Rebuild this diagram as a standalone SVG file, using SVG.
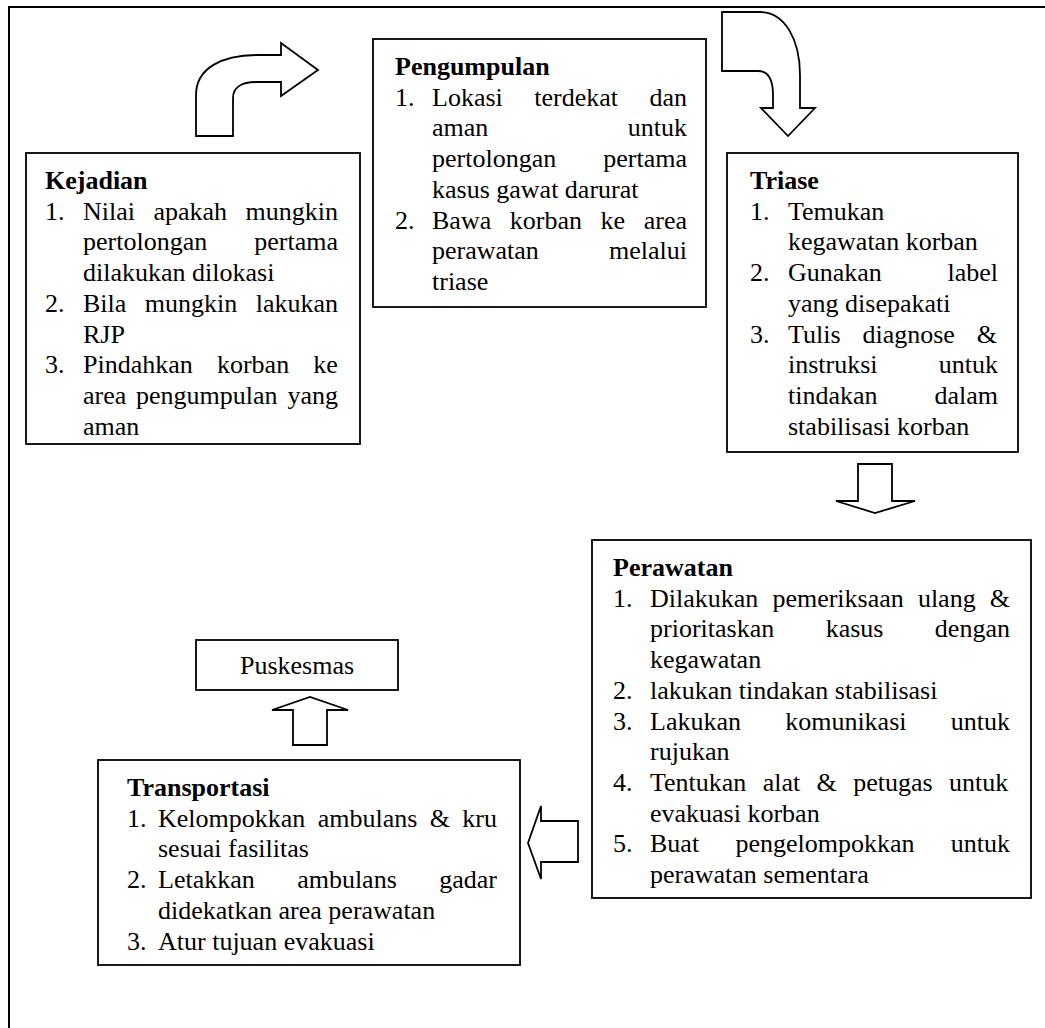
<svg xmlns="http://www.w3.org/2000/svg" width="1045" height="1028" viewBox="0 0 1045 1028">
<style>
.t{font-family:"Liberation Serif","Times New Roman",serif;font-size:26px;fill:#000}
.b{font-weight:bold}
.box{fill:#fff;stroke:#000;stroke-width:1.8}
.arr{fill:#fff;stroke:#000;stroke-width:1.8;stroke-linejoin:miter}
.frame{fill:none;stroke:#000;stroke-width:2}
</style>
<rect width="1045" height="1028" fill="#fff"/>
<path class="frame" d="M9,1028 L9,7 L1045,7"/>

<g id="connectors">
<path class="arr" d="M196,136 L196,95 C196,68 222,55 258,55 L281,55 L281,43 L318,70 L281,96 L281,82 L256,82 C241,82 233,88 233,98 L233,136 Z"/>
<path class="arr" d="M722,12 L760,12 C785,12 800,40 800,75 L800,108 L815,108 L788,136 L761,108 L773,108 L773,95 C773,80 768,71 758,71 L722,71 Z"/>
<path class="arr" d="M858,464 L892,464 L892,501 L915,501 L875,513 L836,501 L858,501 Z"/>
<path class="arr" d="M293,745 L293,710 L272,710 L310,697 L348,710 L327,710 L327,745 Z"/>
<path class="arr" d="M578,821 L541,821 L541,806 L528,843 L541,879 L541,862 L578,862 Z"/>
</g>

<g id="kejadian">
<rect class="box" x="26" y="153" width="334" height="291"/>
<text class="t b" x="45" y="189">Kejadian</text>
<text class="t" x="45" y="219.7">1.</text>
<text class="t" x="83" y="219.7" style="word-spacing:11.95px">Nilai apakah mungkin</text>
<text class="t" y="250.4"><tspan x="83">pertolongan</tspan><tspan x="338" text-anchor="end">pertama</tspan></text>
<text class="t" x="83" y="281.1">dilakukan dilokasi</text>
<text class="t" x="45" y="311.8">2.</text>
<text class="t" x="83" y="311.8" style="word-spacing:11.95px">Bila mungkin lakukan</text>
<text class="t" x="83" y="342.5">RJP</text>
<text class="t" x="45" y="373.2">3.</text>
<text class="t" x="83" y="373.2" style="word-spacing:17.7px">Pindahkan korban ke</text>
<text class="t" x="83" y="403.9" style="word-spacing:3.3px">area pengumpulan yang</text>
<text class="t" x="83" y="434.6">aman</text>
</g>

<g id="pengumpulan">
<rect class="box" x="373" y="39" width="333" height="268"/>
<text class="t b" x="395" y="75">Pengumpulan</text>
<text class="t" x="395" y="105.7">1.</text>
<text class="t" x="432" y="105.7" style="word-spacing:24.95px">Lokasi terdekat dan</text>
<text class="t" y="136.4"><tspan x="432">aman</tspan><tspan x="687" text-anchor="end">untuk</tspan></text>
<text class="t" y="167.1"><tspan x="432">pertolongan</tspan><tspan x="687" text-anchor="end">pertama</tspan></text>
<text class="t" x="432" y="197.8">kasus gawat darurat</text>
<text class="t" x="395" y="228.5">2.</text>
<text class="t" x="432" y="228.5" style="word-spacing:12.1px">Bawa korban ke area</text>
<text class="t" y="259.2"><tspan x="432">perawatan</tspan><tspan x="687" text-anchor="end">melalui</tspan></text>
<text class="t" x="432" y="289.9">triase</text>
</g>

<g id="triase">
<rect class="box" x="727" y="153" width="291" height="299"/>
<text class="t b" x="750" y="189">Triase</text>
<text class="t" x="750" y="219.7">1.</text>
<text class="t" x="788" y="219.7">Temukan</text>
<text class="t" x="788" y="250.4">kegawatan korban</text>
<text class="t" x="750" y="281.1">2.</text>
<text class="t" y="281.1"><tspan x="788">Gunakan</tspan><tspan x="998" text-anchor="end">label</tspan></text>
<text class="t" x="788" y="311.8">yang disepakati</text>
<text class="t" x="750" y="342.5">3.</text>
<text class="t" x="788" y="342.5" style="word-spacing:15.45px">Tulis diagnose &amp;</text>
<text class="t" y="373.2"><tspan x="788">instruksi</tspan><tspan x="998" text-anchor="end">untuk</tspan></text>
<text class="t" y="403.9"><tspan x="788">tindakan</tspan><tspan x="998" text-anchor="end">dalam</tspan></text>
<text class="t" x="788" y="434.6">stabilisasi korban</text>
</g>

<g id="perawatan">
<rect class="box" x="592" y="540" width="439" height="358"/>
<text class="t b" x="613" y="576">Perawatan</text>
<text class="t" x="613" y="606.7">1.</text>
<text class="t" x="650" y="606.7" style="word-spacing:7.6px">Dilakukan pemeriksaan ulang &amp;</text>
<text class="t" x="650" y="637.4" style="word-spacing:44.95px">prioritaskan kasus dengan</text>
<text class="t" x="650" y="668.1">kegawatan</text>
<text class="t" x="613" y="698.8">2.</text>
<text class="t" x="650" y="698.8">lakukan tindakan stabilisasi</text>
<text class="t" x="613" y="729.5">3.</text>
<text class="t" x="650" y="729.5" style="word-spacing:37.7px">Lakukan komunikasi untuk</text>
<text class="t" x="650" y="760.2">rujukan</text>
<text class="t" x="613" y="790.9">4.</text>
<text class="t" x="650" y="790.9" style="word-spacing:9.85px">Tentukan alat &amp; petugas untuk</text>
<text class="t" x="650" y="821.6">evakuasi korban</text>
<text class="t" x="613" y="852.3">5.</text>
<text class="t" x="650" y="852.3" style="word-spacing:29.8px">Buat pengelompokkan untuk</text>
<text class="t" x="650" y="883">perawatan sementara</text>
</g>

<g id="transportasi">
<rect class="box" x="98" y="760" width="422" height="205"/>
<text class="t b" x="127" y="796">Transportasi</text>
<text class="t" x="127" y="826.7">1.</text>
<text class="t" x="158" y="826.7" style="word-spacing:5.9px">Kelompokkan ambulans &amp; kru</text>
<text class="t" x="158" y="857.4">sesuai fasilitas</text>
<text class="t" x="127" y="888.1">2.</text>
<text class="t" x="158" y="888.1" style="word-spacing:35.9px">Letakkan ambulans gadar</text>
<text class="t" x="158" y="918.8">didekatkan area perawatan</text>
<text class="t" x="127" y="949.5">3.</text>
<text class="t" x="158" y="949.5">Atur tujuan evakuasi</text>
</g>

<g id="puskesmas">
<rect class="box" x="196" y="640" width="202" height="50"/>
<text class="t" x="297" y="674" text-anchor="middle">Puskesmas</text>
</g>
</svg>
